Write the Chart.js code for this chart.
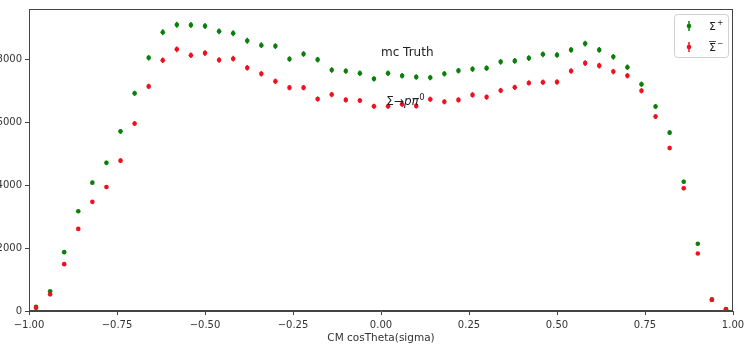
<!DOCTYPE html>
<html>
<head>
<meta charset="utf-8">
<script src="https://cdn.jsdelivr.net/npm/chart.js@4.4.0/dist/chart.umd.min.js"></script>
<style>
  html, body { margin: 0; padding: 0; background: #fff; }
  canvas { display: block; }
</style>
</head>
<body>
<canvas id="cos-chart" width="746" height="345"></canvas>
<script>
'use strict';

// bin centres of CM cosTheta(sigma), 50 bins of 0.04
var binCenters = [
  -0.98, -0.94, -0.90, -0.86, -0.82, -0.78, -0.74, -0.70, -0.66, -0.62,
  -0.58, -0.54, -0.50, -0.46, -0.42, -0.38, -0.34, -0.30, -0.26, -0.22,
  -0.18, -0.14, -0.10, -0.06, -0.02, 0.02, 0.06, 0.10, 0.14, 0.18,
  0.22, 0.26, 0.30, 0.34, 0.38, 0.42, 0.46, 0.50, 0.54, 0.58,
  0.62, 0.66, 0.70, 0.74, 0.78, 0.82, 0.86, 0.90, 0.94, 0.98
];

var sigmaPlus = [
  130, 630, 1870, 3170, 4080, 4710, 5710, 6920, 8050, 8860,
  9100, 9090, 9060, 8890, 8830, 8590, 8450, 8420, 8010, 8170,
  7990, 7660, 7630, 7560, 7380, 7560, 7480, 7440, 7420, 7540,
  7640, 7690, 7720, 7920, 7950, 8040, 8160, 8140, 8300, 8500,
  8300, 8080, 7750, 7210, 6500, 5670, 4110, 2140, 370, 60
];
var sigmaPlusErr = [
  11, 25, 43, 56, 64, 69, 76, 83, 90, 94,
  95, 95, 95, 94, 94, 93, 92, 92, 89, 90,
  89, 88, 87, 87, 86, 87, 86, 86, 86, 87,
  87, 88, 88, 89, 89, 90, 90, 90, 91, 92,
  91, 90, 88, 85, 81, 75, 64, 46, 19, 8
];

var sigmaBarMinus = [
  100, 530, 1490, 2610, 3470, 3940, 4780, 5960, 7140, 7970,
  8320, 8130, 8200, 7980, 8020, 7730, 7540, 7300, 7100, 7100,
  6740, 6880, 6710, 6690, 6510, 6510, 6570, 6520, 6730, 6650,
  6710, 6870, 6800, 7010, 7110, 7250, 7270, 7280, 7630, 7880,
  7800, 7610, 7480, 7000, 6180, 5180, 3900, 1830, 350, 55
];
var sigmaBarMinusErr = [
  10, 23, 39, 51, 59, 63, 69, 77, 84, 89,
  91, 90, 91, 89, 90, 88, 87, 85, 84, 84,
  82, 83, 82, 82, 81, 81, 81, 81, 82, 82,
  82, 83, 82, 84, 84, 85, 85, 85, 87, 89,
  88, 87, 86, 84, 79, 72, 62, 43, 19, 7
];

var xTicks = [-1, -0.75, -0.5, -0.25, 0, 0.25, 0.5, 0.75, 1];
var yTicks = [0, 2000, 4000, 6000, 8000];

var seriesLabels = ['\u03a3\u207a', '\u03a3\u0304\u207b'];
var seriesColors = ['#0a800a', '#f01020'];
var seriesErrors = [sigmaPlusErr, sigmaBarMinusErr];

var axisColor = '#444';
var textColor = '#333';
var fontFamily = '"DejaVu Sans", sans-serif';

function toPoints(values) {
  return binCenters.map((x, i) => ({ x: x, y: values[i] }));
}

// vertical error bars, drawn under the markers
var errorBarPlugin = {
  id: 'errorBars',
  beforeDatasetsDraw: function (chart) {
    var ctx = chart.ctx;
    var xs = chart.scales.x, ys = chart.scales.y;
    chart.data.datasets.forEach(function (ds, d) {
      ctx.save();
      ctx.strokeStyle = ds.backgroundColor;
      ctx.lineWidth = 1.5;
      ds.data.forEach(function (pt, i) {
        var px = xs.getPixelForValue(pt.x);
        var err = seriesErrors[d][i];
        ctx.beginPath();
        ctx.moveTo(px, ys.getPixelForValue(pt.y - err));
        ctx.lineTo(px, ys.getPixelForValue(pt.y + err));
        ctx.stroke();
      });
      ctx.restore();
    });
  }
};

// axes box, text annotations and the boxed legend
var decorPlugin = {
  id: 'decor',
  afterDraw: function (chart) {
    var ctx = chart.ctx;
    var a = chart.chartArea;
    var xs = chart.scales.x, ys = chart.scales.y;
    ctx.save();
    ctx.strokeStyle = axisColor;
    ctx.lineWidth = 1;
    ctx.strokeRect(Math.round(a.left) + 0.5, Math.round(a.top) + 0.5,
      Math.round(a.right - a.left) - 1, Math.round(a.bottom - a.top) - 1);

    // annotations
    ctx.fillStyle = '#222';
    ctx.textBaseline = 'alphabetic';
    ctx.textAlign = 'left';
    ctx.font = '12px ' + fontFamily;
    ctx.fillText('mc Truth', xs.getPixelForValue(0), ys.getPixelForValue(8110));

    var tx = xs.getPixelForValue(0.015);
    var ty = ys.getPixelForValue(6560);
    ctx.font = '12px ' + fontFamily;
    ctx.fillText('\u03a3', tx, ty); tx += ctx.measureText('\u03a3').width;
    ctx.fillText('\u2192', tx, ty); tx += ctx.measureText('\u2192').width;
    ctx.font = 'italic 12px ' + fontFamily;
    ctx.fillText('p\u03c0', tx, ty); tx += ctx.measureText('p\u03c0').width + 0.5;
    ctx.font = '8.5px ' + fontFamily;
    ctx.fillText('0', tx, ty - 5);

    // legend box
    var bx = a.right - 59, by = a.top + 5, bw = 54, bh = 43;
    ctx.fillStyle = 'rgba(255,255,255,0.85)';
    ctx.strokeStyle = '#d0d0d0';
    ctx.beginPath();
    ctx.roundRect(bx + 0.5, by + 0.5, bw, bh, 3);
    ctx.fill();
    ctx.stroke();

    [0, 1].forEach(function (i) {
      var my = by + 12 + i * 21;
      var mx = bx + 15;
      ctx.strokeStyle = seriesColors[i];
      ctx.fillStyle = seriesColors[i];
      ctx.lineWidth = 1.5;
      ctx.beginPath();
      ctx.moveTo(mx, my - 5);
      ctx.lineTo(mx, my + 5);
      ctx.stroke();
      ctx.beginPath();
      ctx.arc(mx, my, 2.3, 0, Math.PI * 2);
      ctx.fill();

      var lx = bx + 35;
      ctx.fillStyle = '#222';
      ctx.textBaseline = 'middle';
      ctx.font = '11px ' + fontFamily;
      ctx.fillText('\u03a3', lx, my + 1);
      var w = ctx.measureText('\u03a3').width;
      ctx.font = '7.5px ' + fontFamily;
      ctx.fillText(i === 0 ? '+' : '\u2212', lx + w + 1, my - 3);
      if (i === 1) {
        ctx.strokeStyle = '#222';
        ctx.lineWidth = 0.8;
        ctx.beginPath();
        ctx.moveTo(lx, my - 5.5);
        ctx.lineTo(lx + w, my - 5.5);
        ctx.stroke();
      }
    });
    ctx.restore();
  }
};

var chart = new Chart(document.getElementById('cos-chart'), {
  type: 'scatter',
  data: {
    datasets: [0, 1].map(i => ({
      label: seriesLabels[i],
      data: toPoints(i === 0 ? sigmaPlus : sigmaBarMinus),
      backgroundColor: seriesColors[i],
      borderWidth: 0,
      pointRadius: 2.3,
      pointHoverRadius: 2.3,
      order: i === 0 ? 1 : 0
    }))
  },
  options: {
    responsive: false,
    animation: false,
    events: [],
    layout: { padding: { top: 9, right: 13, left: 0, bottom: 0 } },
    plugins: {
      legend: { display: false },
      tooltip: { enabled: false }
    },
    scales: {
      x: {
        type: 'linear',
        min: -1,
        max: 1,
        afterBuildTicks: s => { s.ticks = xTicks.map(v => ({ value: v })); },
        afterFit: s => { s.height = 34; s.paddingLeft = 0; s.paddingRight = 0; },
        ticks: {
          color: textColor,
          font: { family: fontFamily, size: 10 },
          padding: 4,
          maxRotation: 0,
          autoSkip: false,
          callback: v => v.toFixed(2).replace('-', '\u2212')
        },
        grid: { drawOnChartArea: false, drawTicks: true, tickLength: 4, color: axisColor },
        border: { color: axisColor },
        title: {
          display: true,
          text: 'CM cosTheta(sigma)',
          color: textColor,
          font: { family: fontFamily, size: 10.5 },
          padding: { top: 0, bottom: 0 }
        }
      },
      y: {
        min: 0,
        max: 9600,
        afterBuildTicks: s => { s.ticks = yTicks.map(v => ({ value: v })); },
        afterFit: s => { s.width = 29; s.paddingTop = 0; s.paddingBottom = 0; },
        ticks: {
          color: textColor,
          font: { family: fontFamily, size: 10 },
          padding: 3,
          callback: v => String(v)
        },
        grid: { drawOnChartArea: false, drawTicks: true, tickLength: 4, color: axisColor },
        border: { color: axisColor }
      }
    }
  },
  plugins: [errorBarPlugin, decorPlugin]
});
</script>
</body>
</html>
